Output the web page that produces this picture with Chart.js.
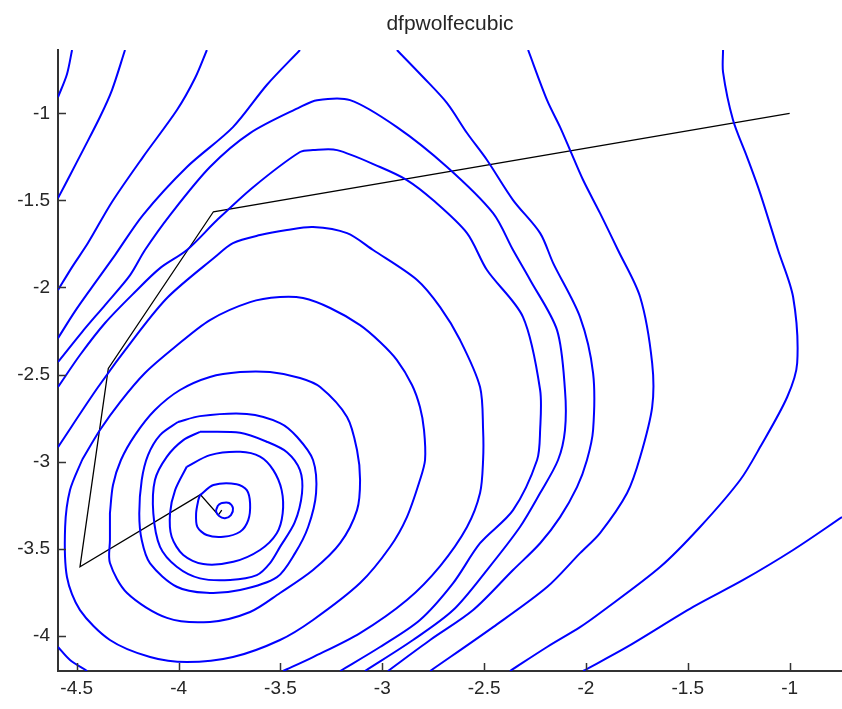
<!DOCTYPE html>
<html>
<head>
<meta charset="utf-8">
<script src="https://cdn.jsdelivr.net/npm/chart.js@4.4.1/dist/chart.umd.min.js"></script>
<style>
  html, body { margin: 0; padding: 0; background: #ffffff; }
  #wrap { width: 842px; height: 709px; position: relative; }
</style>
</head>
<body>
<div id="wrap"><canvas id="c"></canvas></div>
<script>
// ---- data (in axis units) ----
const chartTitle = 'dfpwolfecubic';
const xTicks = [-4.5, -4, -3.5, -3, -2.5, -2, -1.5, -1];
const yTicks = [-4, -3.5, -3, -2.5, -2, -1.5, -1];
const xRange = [-4.592, -0.743];
const yRange = [-4.203, -0.636];

// contour pieces, innermost first
const level1 = [[-3.806,-3.250],[-3.787,-3.238],[-3.752,-3.238],[-3.733,-3.267],[-3.743,-3.307],[-3.772,-3.325],[-3.801,-3.313],[-3.816,-3.284],[-3.806,-3.250]];
const level2 = [[-3.895,-3.193],[-3.829,-3.135],[-3.715,-3.130],[-3.665,-3.164],[-3.649,-3.240],[-3.658,-3.336],[-3.698,-3.403],[-3.780,-3.432],[-3.862,-3.422],[-3.908,-3.375],[-3.914,-3.298],[-3.903,-3.221],[-3.895,-3.193]];
const level3 = [[-3.960,-3.030],[-3.846,-2.963],[-3.698,-2.944],[-3.600,-2.972],[-3.535,-3.049],[-3.494,-3.164],[-3.489,-3.298],[-3.518,-3.412],[-3.600,-3.508],[-3.731,-3.576],[-3.879,-3.589],[-3.977,-3.537],[-4.034,-3.432],[-4.042,-3.298],[-4.017,-3.164],[-3.960,-3.030]];
const level4 = [[-3.895,-2.829],[-3.698,-2.835],[-3.567,-2.886],[-3.468,-2.946],[-3.404,-3.049],[-3.394,-3.181],[-3.430,-3.350],[-3.502,-3.490],[-3.551,-3.583],[-3.616,-3.652],[-3.747,-3.680],[-3.895,-3.671],[-4.009,-3.604],[-4.091,-3.490],[-4.124,-3.298],[-4.116,-3.106],[-4.058,-2.973],[-3.977,-2.877],[-3.895,-2.829]];
const level5 = [[-4.003,-2.773],[-4.091,-2.848],[-4.150,-2.963],[-4.181,-3.106],[-4.193,-3.298],[-4.181,-3.451],[-4.140,-3.585],[-4.009,-3.719],[-3.862,-3.754],[-3.698,-3.738],[-3.517,-3.664],[-3.428,-3.526],[-3.364,-3.376],[-3.325,-3.181],[-3.340,-2.991],[-3.418,-2.859],[-3.502,-2.779],[-3.665,-2.727],[-3.895,-2.739],[-4.003,-2.773]];
const level6 = [[-4.337,-3.296],[-4.322,-3.135],[-4.283,-2.991],[-4.214,-2.848],[-4.116,-2.704],[-3.993,-2.589],[-3.846,-2.514],[-3.698,-2.486],[-3.551,-2.486],[-3.404,-2.520],[-3.305,-2.572],[-3.173,-2.744],[-3.124,-2.934],[-3.109,-3.106],[-3.124,-3.279],[-3.207,-3.469],[-3.340,-3.623],[-3.502,-3.755],[-3.649,-3.864],[-3.846,-3.921],[-4.057,-3.898],[-4.253,-3.755],[-4.337,-3.583],[-4.337,-3.451],[-4.337,-3.296]];
const level7 = [[-4.474,-2.991],[-4.386,-2.819],[-4.287,-2.658],[-4.165,-2.491],[-4.018,-2.342],[-3.846,-2.187],[-3.649,-2.084],[-3.502,-2.055],[-3.389,-2.061],[-3.256,-2.118],[-3.109,-2.216],[-3.011,-2.313],[-2.928,-2.417],[-2.854,-2.560],[-2.815,-2.687],[-2.795,-2.819],[-2.790,-2.991],[-2.815,-3.106],[-2.879,-3.319],[-2.962,-3.491],[-3.109,-3.698],[-3.340,-3.910],[-3.502,-4.025],[-3.733,-4.123],[-3.959,-4.152],[-4.140,-4.123],[-4.337,-4.025],[-4.484,-3.853],[-4.548,-3.663],[-4.557,-3.376],[-4.533,-3.164],[-4.474,-2.991]];
const level8 = [[-4.592,-2.917],[-4.395,-2.572],[-4.214,-2.285],[-4.052,-2.055],[-3.821,-1.825],[-3.733,-1.745],[-3.600,-1.699],[-3.468,-1.670],[-3.340,-1.653],[-3.173,-1.688],[-3.045,-1.785],[-2.829,-1.957],[-2.716,-2.113],[-2.618,-2.302],[-2.520,-2.572],[-2.505,-2.819],[-2.505,-2.991],[-2.520,-3.181],[-2.584,-3.376],[-2.716,-3.600],[-2.879,-3.795],[-3.109,-3.985],[-3.340,-4.123],[-3.487,-4.203]];
const level9a = [[-4.592,-2.572],[-4.484,-2.388],[-4.361,-2.204],[-4.214,-2.026],[-4.091,-1.889],[-3.959,-1.785],[-3.811,-1.613],[-3.634,-1.424],[-3.404,-1.222],[-3.340,-1.211],[-3.222,-1.211],[-3.011,-1.308],[-2.879,-1.383],[-2.751,-1.498],[-2.584,-1.688],[-2.486,-1.900],[-2.309,-2.170],[-2.225,-2.589],[-2.225,-2.819],[-2.240,-2.991],[-2.358,-3.279],[-2.520,-3.469],[-2.652,-3.698],[-2.815,-3.910],[-3.011,-4.065],[-3.207,-4.203]];
const level9b = [[-4.592,-4.065],[-4.533,-4.140],[-4.449,-4.203]];
const level10 = [[-4.592,-2.428],[-4.474,-2.256],[-4.361,-2.101],[-4.238,-1.929],[-4.165,-1.785],[-4.042,-1.584],[-3.846,-1.308],[-3.649,-1.113],[-3.404,-0.964],[-3.320,-0.924],[-3.158,-0.924],[-2.928,-1.079],[-2.682,-1.308],[-2.456,-1.573],[-2.358,-1.785],[-2.274,-1.957],[-2.142,-2.245],[-2.103,-2.589],[-2.103,-2.819],[-2.137,-2.991],[-2.225,-3.181],[-2.324,-3.376],[-2.486,-3.623],[-2.652,-3.853],[-2.849,-4.025],[-3.085,-4.203]];
const level11a = [[-4.592,-2.291],[-4.508,-2.136],[-4.425,-1.998],[-4.312,-1.814],[-4.175,-1.584],[-3.959,-1.308],[-3.733,-1.079],[-3.567,-0.837],[-3.404,-0.636]];
const level11b = [[-2.928,-0.636],[-2.800,-0.791],[-2.682,-0.941],[-2.584,-1.113],[-2.486,-1.268],[-2.358,-1.498],[-2.225,-1.688],[-2.161,-1.860],[-2.029,-2.170],[-1.965,-2.492],[-1.965,-2.819],[-1.995,-2.991],[-2.044,-3.147],[-2.127,-3.319],[-2.225,-3.469],[-2.358,-3.623],[-2.554,-3.853],[-2.765,-4.025],[-2.972,-4.203]];
const level12a = [[-4.592,-2.015],[-4.523,-1.883],[-4.445,-1.745],[-4.327,-1.509],[-4.175,-1.251],[-4.008,-0.981],[-3.919,-0.797],[-3.861,-0.636]];
const level12b = [[-2.284,-0.636],[-2.191,-0.924],[-2.127,-1.079],[-2.078,-1.211],[-2.014,-1.383],[-1.931,-1.573],[-1.843,-1.785],[-1.734,-2.055],[-1.675,-2.434],[-1.675,-2.687],[-1.734,-2.974],[-1.798,-3.181],[-1.931,-3.411],[-2.029,-3.526],[-2.191,-3.721],[-2.456,-3.951],[-2.765,-4.203]];
const level13a = [[-4.592,-1.487],[-4.533,-1.355],[-4.469,-1.211],[-4.386,-1.021],[-4.327,-0.866],[-4.263,-0.636]];
const level13b = [[-1.327,-0.636],[-1.327,-0.763],[-1.278,-1.038],[-1.209,-1.251],[-1.145,-1.458],[-1.057,-1.785],[-0.983,-2.055],[-0.963,-2.434],[-1.012,-2.629],[-1.145,-2.917],[-1.243,-3.106],[-1.440,-3.376],[-1.636,-3.606],[-1.931,-3.870],[-2.029,-3.951],[-2.191,-4.065],[-2.373,-4.203]];
const level14a = [[-4.592,-0.907],[-4.548,-0.775],[-4.523,-0.636]];
const level14b = [[-0.743,-3.319],[-0.983,-3.508],[-1.228,-3.680],[-1.474,-3.835],[-1.798,-4.065],[-2.014,-4.203]];

// optimisation path (iterates)
const pathX = [-1.000, -3.829, -4.345, -4.484, -3.893, -3.805, -3.788];
const pathY = [-1.000, -1.565, -2.465, -3.604, -3.190, -3.307, -3.279];

const contourPieces = [level1, level2, level3, level4, level5, level6, level7, level8,
  level9a, level9b, level10, level11a, level11b, level12a, level12b,
  level13a, level13b, level14a, level14b];

// ---- chart ----
const toPts = arr => arr.map(p => ({ x: p[0], y: p[1] }));
const datasets = contourPieces.map(piece => ({
  data: toPts(piece),
  showLine: true,
  borderColor: '#0000ff',
  borderWidth: 2,
  pointRadius: 0,
  tension: 0.3,
  fill: false
}));
datasets.push({
  data: pathX.map((x, i) => ({ x: x, y: pathY[i] })),
  showLine: true,
  borderColor: '#000000',
  borderWidth: 1.3,
  pointRadius: 0,
  tension: 0,
  fill: false
});

const innerTicks = {
  id: 'innerTicks',
  afterDraw(chart) {
    const ctx = chart.ctx, a = chart.chartArea;
    const xs = chart.scales.x, ys = chart.scales.y;
    ctx.save();
    ctx.strokeStyle = '#333333';
    ctx.lineWidth = 1.5;
    ctx.beginPath();
    xs.ticks.forEach((t, i) => {
      const px = Math.round(xs.getPixelForTick(i)) + 0.5;
      ctx.moveTo(px, a.bottom); ctx.lineTo(px, a.bottom - 8);
    });
    ys.ticks.forEach((t, i) => {
      const py = Math.round(ys.getPixelForTick(i)) + 0.5;
      ctx.moveTo(a.left, py); ctx.lineTo(a.left + 8, py);
    });
    ctx.stroke();
    ctx.restore();
  }
};

const tickFont = { family: "'Liberation Sans', Arial, sans-serif", size: 19 };
const plainLabel = v => String(v);

new Chart(document.getElementById('c'), {
  type: 'scatter',
  data: { datasets: datasets },
  options: {
    responsive: true,
    maintainAspectRatio: false,
    animation: false,
    devicePixelRatio: 1,
    layout: { padding: 0 },
    plugins: {
      legend: { display: false },
      tooltip: { enabled: false },
      title: {
        display: true,
        text: chartTitle,
        fullSize: false,
        color: '#262626',
        font: { family: "'Liberation Sans', Arial, sans-serif", size: 21, weight: 'normal', lineHeight: 1.2 },
        padding: { top: 12, bottom: 12.8 }
      }
    },
    scales: {
      x: {
        type: 'linear',
        min: xRange[0],
        max: xRange[1],
        afterBuildTicks: s => { s.ticks = xTicks.map(v => ({ value: v })); },
        afterFit: s => { s.height = 38; },
        grid: { display: true, drawOnChartArea: false, drawTicks: false },
        border: { display: true, color: '#333333', width: 2 },
        ticks: { color: '#262626', font: tickFont, padding: 6, maxRotation: 0, autoSkip: false, callback: plainLabel }
      },
      y: {
        type: 'linear',
        min: yRange[0],
        max: yRange[1],
        afterBuildTicks: s => { s.ticks = yTicks.map(v => ({ value: v })); },
        afterFit: s => { s.width = 58; },
        grid: { display: true, drawOnChartArea: false, drawTicks: false },
        border: { display: true, color: '#333333', width: 2 },
        ticks: { color: '#262626', font: tickFont, padding: 8, autoSkip: false, callback: plainLabel }
      }
    }
  },
  plugins: [innerTicks]
});
</script>
</body>
</html>
